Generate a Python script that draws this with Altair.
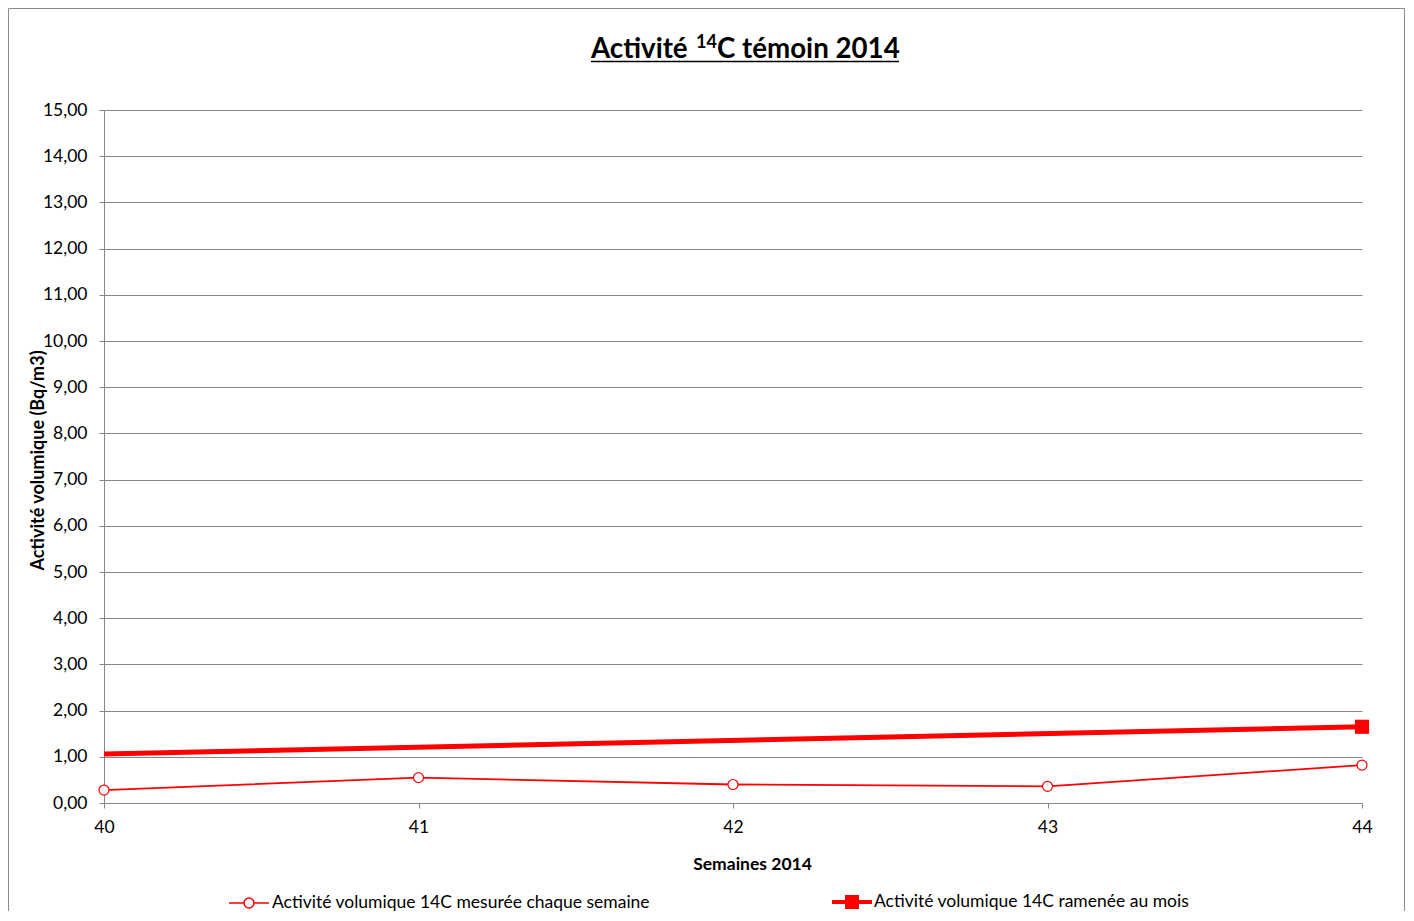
import altair as alt
import pandas as pd

weeks = [40, 41, 42, 43, 44]
weekly_values = [0.28, 0.55, 0.40, 0.36, 0.82]
month_weeks = [40, 44]
monthly_values = [1.06, 1.65]
y_ticks = list(range(0, 16))
S1 = "Activité volumique 14C mesurée chaque semaine"
S2 = "Activité volumique 14C ramenée au mois"
title_parts = ["Activité", "14", "C témoin 2014"]

weekly_df = pd.DataFrame({"week": weeks, "value": weekly_values, "series": S1})
monthly_df = pd.DataFrame({"week": month_weeks, "value": monthly_values, "series": S2})

RED = "#ff0000"
GRAY = "#868686"
FONT = "Lato"
FS = 17.5
W, H = 1258, 693
PL, PT, PR, PB = 96, 102, 44, 108

x_enc = alt.X(
    "week:Q",
    scale=alt.Scale(domain=[40, 44], nice=False, zero=False),
    axis=alt.Axis(
        values=weeks, format="d", grid=False, title="Semaines 2014",
        titleFont=FONT, titleFontSize=FS, titleFontWeight="bold", titleColor="#000",
        titleX=648, titleY=61, titleBaseline="middle", titleAlign="center",
        labelFont=FONT, labelFontSize=FS, labelPadding=10, labelColor="#000", labelFlush=False,
        tickSize=5, domainColor=GRAY, tickColor=GRAY,
    ),
)
y_enc = alt.Y(
    "value:Q",
    scale=alt.Scale(domain=[0, 15], nice=False, zero=True),
    axis=alt.Axis(
        values=y_ticks, labelExpr="replace(format(datum.value, '.2f'), '.', ',')",
        grid=True, gridColor=GRAY, gridWidth=1,
        title="Activité volumique (Bq/m3)", titleFont=FONT, titleFontSize=18,
        titleFontWeight="bold", titleColor="#000", titleX=-66, titleY=350,
        titleAngle=270, titleBaseline="middle", titleAlign="center",
        labelFont=FONT, labelFontSize=FS, labelPadding=12, labelColor="#000", labelFlush=False,
        tickSize=5, domainColor=GRAY, tickColor=GRAY,
    ),
)

weekly_line = alt.Chart(weekly_df).mark_line(color=RED, strokeWidth=1.8).encode(x=x_enc, y=y_enc)
monthly_line = alt.Chart(monthly_df).mark_line(color=RED, strokeWidth=5).encode(x=x_enc, y=y_enc)
weekly_pts = alt.Chart(weekly_df).mark_point(
    shape="circle", filled=True, fill="white", stroke=RED, strokeWidth=1.2, size=100, opacity=1
).encode(x=x_enc, y=y_enc)
monthly_pt = alt.Chart(monthly_df).transform_filter("datum.week == 44").mark_point(
    shape="square", filled=True, color=RED, size=200, opacity=1
).encode(x=x_enc, y=y_enc)

path1 = "M-1,0L-0.25,0M0.25,0L1,0M0.25,0A0.25,0.25,0,1,1,-0.25,0A0.25,0.25,0,1,1,0.25,0"
path2 = "M-1,-0.1L1,-0.1L1,0.1L-1,0.1ZM-0.35,-0.35L0.35,-0.35L0.35,0.35L-0.35,0.35Z"

leg_common = dict(
    title=None, orient="none", symbolSize=1600, symbolOpacity=1, labelLimit=0,
    labelFont=FONT, labelFontSize=FS, labelColor="#000", labelOffset=2, legendY=772,
)
carrier1 = alt.Chart(weekly_df).mark_point(filled=False, color=RED, opacity=0, strokeWidth=1.5).encode(
    x=x_enc, y=y_enc,
    shape=alt.Shape("series:N", scale=alt.Scale(domain=[S1], range=[path1]),
                    legend=alt.Legend(legendX=124, symbolStrokeWidth=1.5, **leg_common)),
)
carrier2 = alt.Chart(monthly_df).mark_point(filled=True, color=RED, opacity=0).encode(
    x=x_enc, y=y_enc,
    shape=alt.Shape("series:N", scale=alt.Scale(domain=[S2], range=[path2]),
                    legend=alt.Legend(legendX=728, symbolStrokeWidth=0, **leg_common)),
)

one = pd.DataFrame({"t": [title_parts[0]]})
t1 = alt.Chart(pd.DataFrame({"t": [title_parts[0]]})).mark_text(
    align="left", baseline="alphabetic", font=FONT, fontSize=27.7, fontWeight="bold", color="#000"
).encode(x=alt.value(487), y=alt.value(-52), text="t:N")
t2 = alt.Chart(pd.DataFrame({"t": [title_parts[1]]})).mark_text(
    align="left", baseline="alphabetic", font=FONT, fontSize=18, fontWeight="bold", color="#000"
).encode(x=alt.value(592), y=alt.value(-62), text="t:N")
t3 = alt.Chart(pd.DataFrame({"t": [title_parts[2]]})).mark_text(
    align="left", baseline="alphabetic", font=FONT, fontSize=27.7, fontWeight="bold", color="#000"
).encode(x=alt.value(613), y=alt.value(-52), text="t:N")
underline = alt.Chart(one).mark_rule(color="#000", strokeWidth=1.6).encode(
    x=alt.value(487), x2=alt.value(795), y=alt.value(-48.5)
)
frame = alt.Chart(one).mark_rect(fillOpacity=0, stroke="#8a8a8a", strokeWidth=1).encode(
    x=alt.value(-95.5), x2=alt.value(W + PR - 1.5), y=alt.value(-PT + 0.5), y2=alt.value(H + PB + 20)
)

chart = alt.layer(
    frame, weekly_line, monthly_line, weekly_pts, monthly_pt, carrier1, carrier2,
    t1, t2, t3, underline,
).resolve_scale(shape="independent").resolve_legend(shape="independent").properties(
    width=W, height=H, autosize=alt.AutoSizeParams(type="none"),
    padding={"left": PL, "top": PT, "right": PR, "bottom": PB},
    background="white",
).configure_view(stroke=None)

chart.save("out.html", embed_options={"renderer": "svg", "actions": False})
